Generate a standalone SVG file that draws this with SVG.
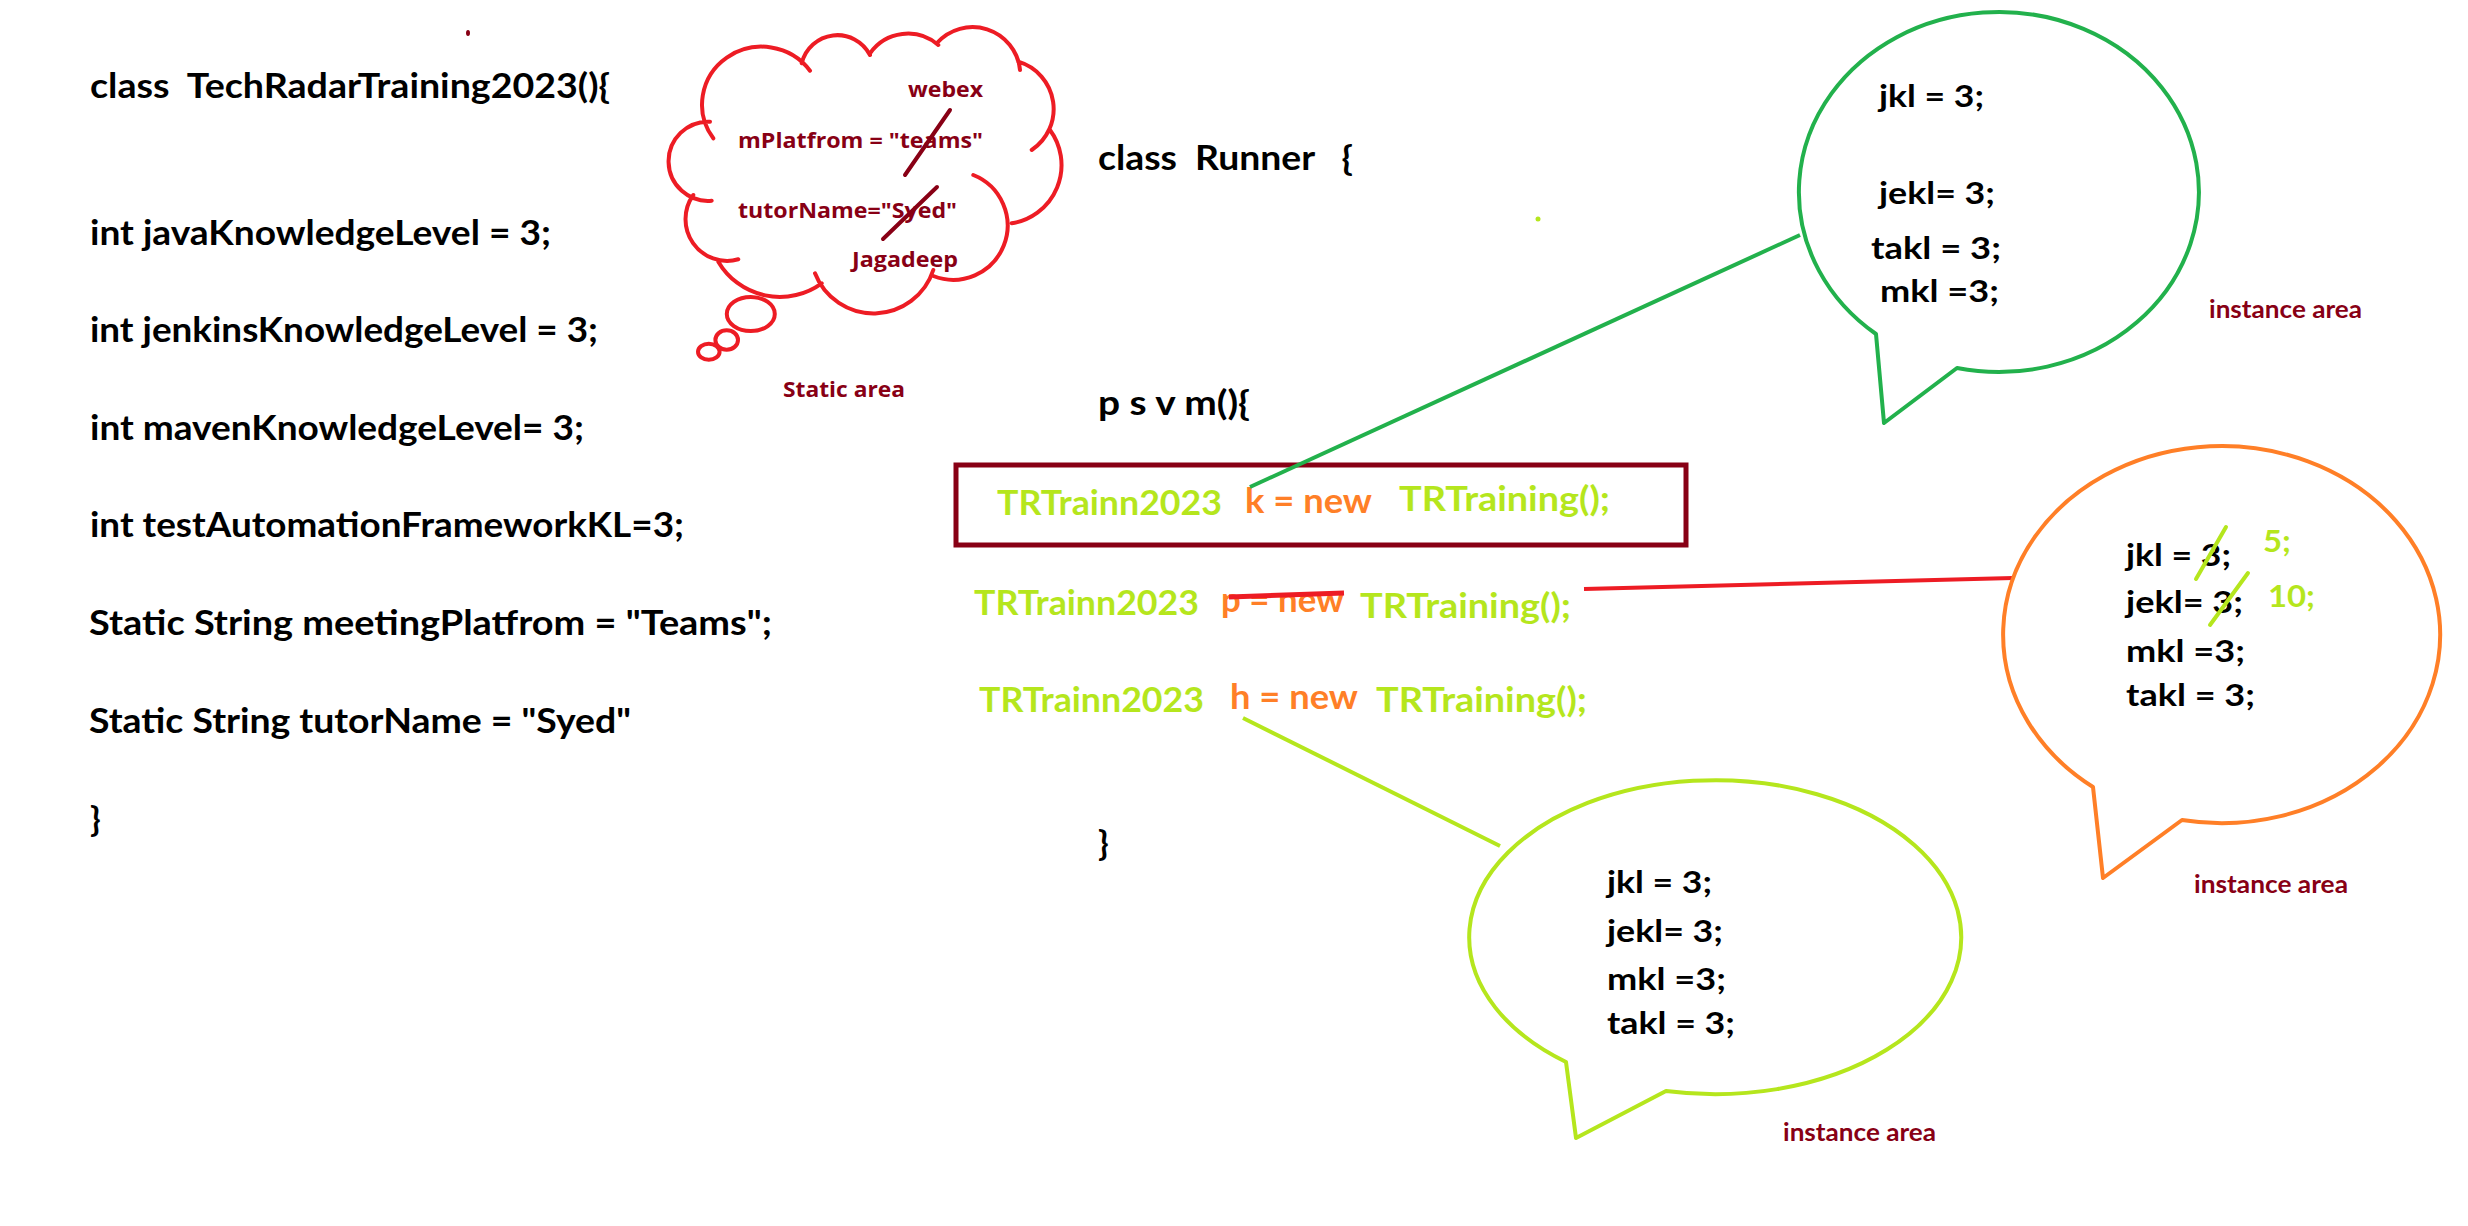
<svg xmlns="http://www.w3.org/2000/svg" width="2468" height="1226" viewBox="0 0 2468 1226">
<style>
  text { font-family: Lato, "Open Sans", "DejaVu Sans", sans-serif; font-weight: bold; white-space: pre; }
  .big { font-size: 35px; fill: #000; }
  .code { font-size: 34px; }
  .bub { font-size: 30px; fill: #000; }
  .lime { fill: #B5E61D; }
  .orange { fill: #FF7F27; }
  .dred { fill: #880015; }
  .label { font-size: 25px; fill: #880015; }
  .cloudtxt { font-family: "Open Sans", Lato, sans-serif; font-size: 22px; fill: #880015; }
  .stroke { fill: none; stroke-width: 4; stroke-linecap: round; stroke-linejoin: round; }
</style>
<rect x="0" y="0" width="2468" height="1226" fill="#ffffff"/>

<g id="static-class">
  <text class="big" x="90" y="98" textLength="520" lengthAdjust="spacingAndGlyphs" xml:space="preserve">class  TechRadarTraining2023(){</text>
  <text class="big" x="90" y="245" textLength="461" lengthAdjust="spacingAndGlyphs">int javaKnowledgeLevel = 3;</text>
  <text class="big" x="90" y="342" textLength="508" lengthAdjust="spacingAndGlyphs">int jenkinsKnowledgeLevel = 3;</text>
  <text class="big" x="90" y="440" textLength="494" lengthAdjust="spacingAndGlyphs">int mavenKnowledgeLevel= 3;</text>
  <text class="big" x="90" y="537" textLength="594" lengthAdjust="spacingAndGlyphs">int testAutomationFrameworkKL=3;</text>
  <text class="big" x="89" y="635" textLength="683" lengthAdjust="spacingAndGlyphs">Static String meetingPlatfrom = "Teams";</text>
  <text class="big" x="89" y="733" textLength="542" lengthAdjust="spacingAndGlyphs">Static String tutorName = "Syed"</text>
  <text class="big" x="90" y="831">}</text>
  <ellipse cx="468" cy="33" rx="2" ry="3" fill="#880015"/>
</g>

<g id="static-area-cloud">
  <path class="stroke" stroke="#ED1C24" d="
    M 711.7 200.7 A 39.6 39.6 0 1 1 710 121.7
    M 713.3 138.3 A 56.7 55 0 0 1 810 70.7
    M 801.7 63.3 A 36.7 36.7 0 0 1 870 55
    M 870 53.3 A 46.3 46.3 0 0 1 938.3 45
    M 936.7 43.3 A 47.7 47.7 0 0 1 1020 70
    M 1018.3 61.7 A 49.3 49.3 0 0 1 1031.7 150
    M 1050 130 A 59 59 0 0 1 1011.7 223.3
    M 973.3 175 A 54.3 54.3 0 0 1 933.3 276
    M 933.3 270 A 62.8 62.8 0 0 1 815 273.3
    M 821.7 283.3 A 71.3 71.3 0 0 1 718.3 261.7
    M 738.3 259.3 A 41.6 41.6 0 0 1 693.3 195"/>
  <ellipse class="stroke" stroke="#ED1C24" cx="750.8" cy="314" rx="24" ry="17"/>
  <ellipse class="stroke" stroke="#ED1C24" cx="726.7" cy="340" rx="11.3" ry="9.7"/>
  <ellipse class="stroke" stroke="#ED1C24" cx="708.8" cy="351.7" rx="10.8" ry="8"/>
  <text class="cloudtxt" x="908" y="97" textLength="75" lengthAdjust="spacingAndGlyphs">webex</text>
  <text class="cloudtxt" x="738" y="148" textLength="245" lengthAdjust="spacingAndGlyphs">mPlatfrom = "teams"</text>
  <text class="cloudtxt" x="738" y="218" textLength="219" lengthAdjust="spacingAndGlyphs">tutorName="Syed"</text>
  <text class="cloudtxt" x="852" y="267" textLength="106" lengthAdjust="spacingAndGlyphs">Jagadeep</text>
  <line class="stroke" stroke="#880015" x1="950" y1="110" x2="905" y2="175"/>
  <line class="stroke" stroke="#880015" x1="937" y1="187" x2="883" y2="239"/>
  <text class="cloudtxt" x="783" y="397" textLength="122" lengthAdjust="spacingAndGlyphs">Static area</text>
</g>

<g id="runner-class">
  <text class="big" x="1098" y="170" textLength="255" lengthAdjust="spacingAndGlyphs" xml:space="preserve">class  Runner   {</text>
  <text class="big" x="1098" y="415" textLength="152" lengthAdjust="spacingAndGlyphs">p s v m(){</text>
  <text class="big" x="1098" y="855">}</text>
  <circle cx="1538" cy="219" r="2.5" fill="#B5E61D"/>
</g>

<g id="line-k">
  <rect x="956" y="465" width="730" height="80" fill="none" stroke="#880015" stroke-width="5"/>
  <text class="code lime" x="997" y="515" textLength="225" lengthAdjust="spacingAndGlyphs">TRTrainn2023</text>
  <text class="code orange" x="1245" y="513" textLength="127" lengthAdjust="spacingAndGlyphs">k = new</text>
  <text class="code lime" x="1399" y="511" textLength="211" lengthAdjust="spacingAndGlyphs">TRTraining();</text>
</g>

<g id="line-p">
  <text class="code lime" x="974" y="615" textLength="225" lengthAdjust="spacingAndGlyphs">TRTrainn2023</text>
  <text class="code orange" x="1221" y="612" textLength="123" lengthAdjust="spacingAndGlyphs">p = new</text>
  <text class="code lime" x="1360" y="618" textLength="211" lengthAdjust="spacingAndGlyphs">TRTraining();</text>
  <line x1="1229" y1="597" x2="1344" y2="593" stroke="#ED1C24" stroke-width="5"/>
</g>

<g id="line-h">
  <text class="code lime" x="979" y="712" textLength="225" lengthAdjust="spacingAndGlyphs">TRTrainn2023</text>
  <text class="code orange" x="1230" y="709" textLength="128" lengthAdjust="spacingAndGlyphs">h = new</text>
  <text class="code lime" x="1376" y="712" textLength="211" lengthAdjust="spacingAndGlyphs">TRTraining();</text>
</g>

<g id="connectors">
  <line x1="1250" y1="487" x2="1800" y2="235" stroke="#22B14C" stroke-width="4"/>
  <line x1="1584" y1="589" x2="2013" y2="578" stroke="#ED1C24" stroke-width="4"/>
  <line x1="1243" y1="718" x2="1500" y2="846" stroke="#B5E61D" stroke-width="4"/>
</g>

<g id="bubble-k">
  <path class="stroke" stroke="#22B14C" d="M 1876 334 A 200 180 0 1 1 1957 368 L 1884 423 Z"/>
  <text class="bub" x="1879" y="107" textLength="105" lengthAdjust="spacingAndGlyphs">jkl = 3;</text>
  <text class="bub" x="1879" y="204" textLength="116" lengthAdjust="spacingAndGlyphs">jekl= 3;</text>
  <text class="bub" x="1871" y="259" textLength="130" lengthAdjust="spacingAndGlyphs">takl = 3;</text>
  <text class="bub" x="1880" y="302" textLength="119" lengthAdjust="spacingAndGlyphs">mkl =3;</text>
  <text class="label" x="2209" y="318" textLength="153" lengthAdjust="spacingAndGlyphs">instance area</text>
</g>

<g id="bubble-p">
  <path class="stroke" stroke="#FF7F27" d="M 2093 787 A 218.5 188.5 0 1 1 2182 820 L 2103 878 Z"/>
  <text class="bub" x="2126" y="566" textLength="105" lengthAdjust="spacingAndGlyphs">jkl = 3;</text>
  <text class="bub" x="2126" y="613" textLength="117" lengthAdjust="spacingAndGlyphs">jekl= 3;</text>
  <text class="bub" x="2126" y="662" textLength="119" lengthAdjust="spacingAndGlyphs">mkl =3;</text>
  <text class="bub" x="2126" y="706" textLength="129" lengthAdjust="spacingAndGlyphs">takl = 3;</text>
  <line class="stroke" stroke="#B5E61D" stroke-width="3" x1="2226" y1="527" x2="2196" y2="579"/>
  <line class="stroke" stroke="#B5E61D" stroke-width="3" x1="2248" y1="573" x2="2210" y2="625"/>
  <text class="bub lime" x="2263" y="552" textLength="28" lengthAdjust="spacingAndGlyphs">5;</text>
  <text class="bub lime" x="2268" y="607" textLength="47" lengthAdjust="spacingAndGlyphs">10;</text>
  <text class="label" x="2194" y="893" textLength="154" lengthAdjust="spacingAndGlyphs">instance area</text>
</g>

<g id="bubble-h">
  <path class="stroke" stroke="#B5E61D" d="M 1566 1062 A 246 157 0 1 1 1666 1091 L 1576 1138 Z"/>
  <text class="bub" x="1607" y="893" textLength="105" lengthAdjust="spacingAndGlyphs">jkl = 3;</text>
  <text class="bub" x="1607" y="942" textLength="116" lengthAdjust="spacingAndGlyphs">jekl= 3;</text>
  <text class="bub" x="1607" y="990" textLength="119" lengthAdjust="spacingAndGlyphs">mkl =3;</text>
  <text class="bub" x="1607" y="1034" textLength="128" lengthAdjust="spacingAndGlyphs">takl = 3;</text>
  <text class="label" x="1783" y="1141" textLength="153" lengthAdjust="spacingAndGlyphs">instance area</text>
</g>
</svg>
